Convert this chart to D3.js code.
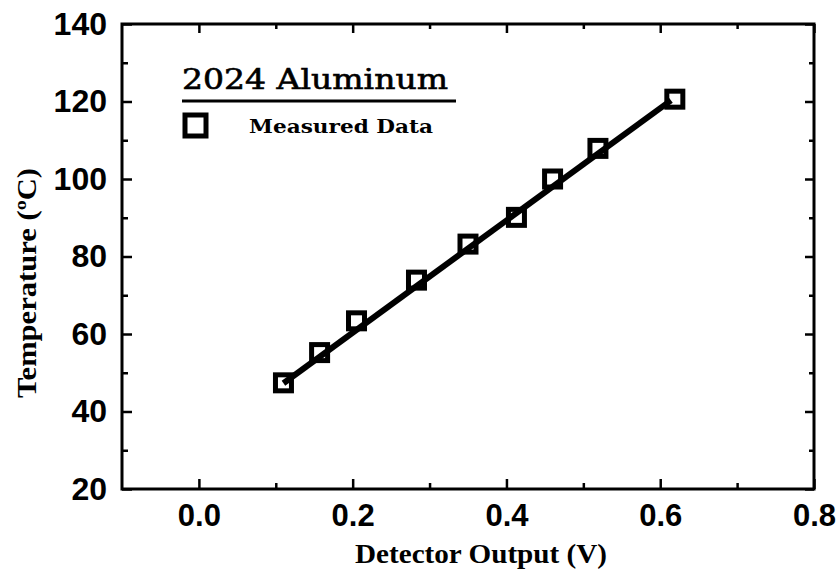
<!DOCTYPE html>
<html>
<head>
<meta charset="utf-8">
<script src="https://cdn.jsdelivr.net/npm/d3@7"></script>
<style>
  body { margin: 0; background: #fff; }
  svg { display: block; }
</style>
</head>
<body>
<div id="chart"></div>
<script>
// measured points
var detectorV = [0.110, 0.157, 0.205, 0.283, 0.350, 0.413, 0.460, 0.519, 0.619];
var temperatureC = [47.4, 55.2, 63.4, 73.9, 83.2, 90.1, 100.0, 107.9, 120.6];

// fitted line end points
var fitV = [0.110, 0.614];
var fitC = [47.3, 120.3];

var xMajor = [0.0, 0.2, 0.4, 0.6, 0.8];
var xMinor = [0.1, 0.3, 0.5, 0.7];
var yMajor = [20, 40, 60, 80, 100, 120, 140];
var yMinor = [30, 50, 70, 90, 110, 130];

var width = 840, height = 571;
var margin = { top: 24, right: 26, bottom: 82, left: 122 };

var svg = d3.select("#chart").append("svg")
  .attr("width", width)
  .attr("height", height);

var x = d3.scaleLinear().domain([-0.1, 0.8]).range([margin.left, width - margin.right]);
var y = d3.scaleLinear().domain([20, 140]).range([height - margin.bottom, margin.top]);

var labelFont = "'Liberation Sans', Arial, sans-serif";
var serif = "'Liberation Serif', 'Times New Roman', serif";

// axes, ticks pointing inward
function styleAxis(g) {
  g.select(".domain").remove();
  g.selectAll(".tick line").attr("stroke", "#000").attr("stroke-width", 2.5);
}

svg.append("g")
  .attr("transform", "translate(0," + y(20) + ")")
  .call(d3.axisBottom(x).tickValues(xMajor).tickSize(-10).tickPadding(15).tickFormat(d3.format(".1f")))
  .call(styleAxis)
  .selectAll("text")
  .attr("font-family", labelFont).attr("font-weight", "bold").attr("font-size", 31).attr("fill", "#000");

svg.append("g")
  .attr("transform", "translate(0," + y(20) + ")")
  .call(d3.axisBottom(x).tickValues(xMinor).tickSize(-6).tickFormat(""))
  .call(styleAxis);

svg.append("g")
  .attr("transform", "translate(0," + y(140) + ")")
  .call(d3.axisTop(x).tickValues(xMajor).tickSize(-9).tickFormat(""))
  .call(styleAxis);

svg.append("g")
  .attr("transform", "translate(0," + y(140) + ")")
  .call(d3.axisTop(x).tickValues(xMinor).tickSize(-5).tickFormat(""))
  .call(styleAxis);

svg.append("g")
  .attr("transform", "translate(" + x(-0.1) + ",0)")
  .call(d3.axisLeft(y).tickValues(yMajor).tickSize(-10).tickPadding(15))
  .call(styleAxis)
  .selectAll("text")
  .attr("font-family", labelFont).attr("font-weight", "bold").attr("font-size", 32).attr("fill", "#000");

svg.append("g")
  .attr("transform", "translate(" + x(-0.1) + ",0)")
  .call(d3.axisLeft(y).tickValues(yMinor).tickSize(-6).tickFormat(""))
  .call(styleAxis);

svg.append("g")
  .attr("transform", "translate(" + x(0.8) + ",0)")
  .call(d3.axisRight(y).tickValues(yMajor).tickSize(-9).tickFormat(""))
  .call(styleAxis);

svg.append("g")
  .attr("transform", "translate(" + x(0.8) + ",0)")
  .call(d3.axisRight(y).tickValues(yMinor).tickSize(-5).tickFormat(""))
  .call(styleAxis);

// frame
svg.append("rect")
  .attr("x", x(-0.1))
  .attr("y", y(140))
  .attr("width", x(0.8) - x(-0.1))
  .attr("height", y(20) - y(140))
  .attr("fill", "none")
  .attr("stroke", "#000")
  .attr("stroke-width", 3);

// fit line
var fit = fitV.map(function (v, i) { return { v: v, c: fitC[i] }; });
svg.append("path")
  .datum(fit)
  .attr("d", d3.line().x(function (d) { return x(d.v); }).y(function (d) { return y(d.c); }))
  .attr("fill", "none")
  .attr("stroke", "#000")
  .attr("stroke-width", 6);

// measured data squares
var pts = detectorV.map(function (v, i) { return { v: v, c: temperatureC[i] }; });
var side = 16;
svg.selectAll("rect.pt")
  .data(pts)
  .enter().append("rect")
  .attr("class", "pt")
  .attr("x", function (d) { return x(d.v) - side / 2; })
  .attr("y", function (d) { return y(d.c) - side / 2; })
  .attr("width", side)
  .attr("height", side)
  .attr("fill", "none")
  .attr("stroke", "#000")
  .attr("stroke-width", 5);

// legend
svg.append("text")
  .attr("x", 182)
  .attr("y", 89)
  .attr("textLength", 266)
  .attr("lengthAdjust", "spacingAndGlyphs")
  .attr("font-family", "'DejaVu Serif', serif")
  .attr("font-size", 27)
  .attr("stroke", "#000")
  .attr("stroke-width", 0.6)
  .text("2024 Aluminum");

svg.append("line")
  .attr("x1", 182).attr("x2", 456)
  .attr("y1", 101).attr("y2", 101)
  .attr("stroke", "#000")
  .attr("stroke-width", 3);

svg.append("rect")
  .attr("x", 185).attr("y", 115)
  .attr("width", 21).attr("height", 21)
  .attr("fill", "none")
  .attr("stroke", "#000")
  .attr("stroke-width", 5);

svg.append("text")
  .attr("x", 249)
  .attr("y", 133)
  .attr("textLength", 184)
  .attr("lengthAdjust", "spacingAndGlyphs")
  .attr("font-family", "'DejaVu Serif', serif")
  .attr("font-weight", "bold")
  .attr("font-size", 19)
  .text("Measured Data");

// axis titles
svg.append("text")
  .attr("x", 355)
  .attr("y", 563)
  .attr("textLength", 252)
  .attr("lengthAdjust", "spacingAndGlyphs")
  .attr("font-family", serif)
  .attr("font-weight", "bold")
  .attr("font-size", 28)
  .text("Detector Output (V)");

svg.append("text")
  .attr("transform", "translate(36,398) rotate(-90)")
  .attr("textLength", 230)
  .attr("lengthAdjust", "spacingAndGlyphs")
  .attr("font-family", serif)
  .attr("font-weight", "bold")
  .attr("font-size", 27)
  .text("Temperature (ºC)");
</script>
</body>
</html>
